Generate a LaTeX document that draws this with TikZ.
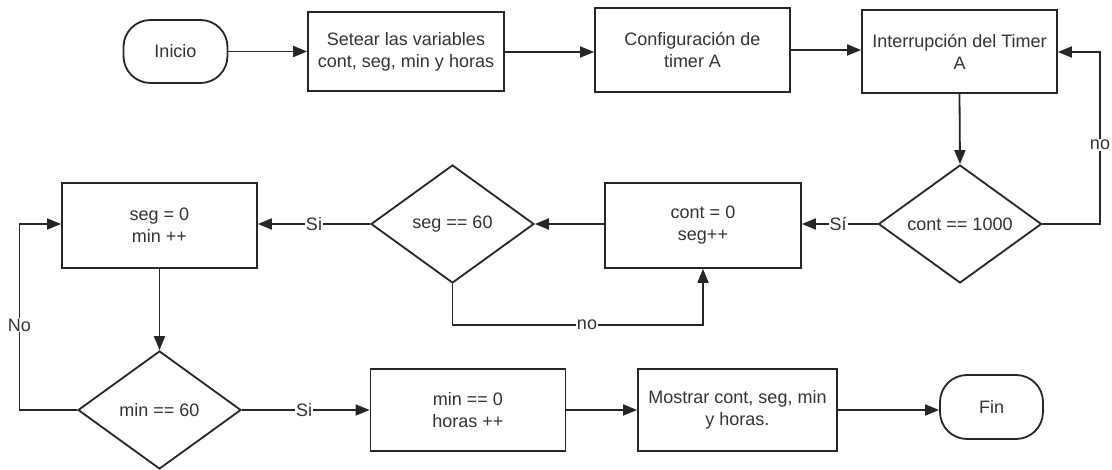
\documentclass[tikz,border=0pt]{standalone}
\usepackage{fontspec}
\setmainfont{Liberation Sans}
\usetikzlibrary{arrows.meta,shapes.geometric}
\definecolor{ln}{HTML}{262626}
\definecolor{tx}{HTML}{333333}
\begin{document}
\begin{tikzpicture}[x=1pt,y=-1pt,
  every node/.style={font=\fontsize{18}{22}\selectfont, text=tx},
  box/.style={draw=ln, line width=1.8pt, rectangle, align=center, inner sep=2pt},
  term/.style={draw=ln, line width=1.8pt, rectangle, rounded corners=27pt, align=center},
  dec/.style={draw=ln, line width=1.8pt, diamond, aspect=1.38, inner sep=0pt, minimum width=163pt, minimum height=118pt, align=center},
  lbl/.style={fill=white, inner sep=1pt},
  conn/.style={draw=ln, line width=1.8pt, -{Triangle[length=14pt,width=11pt]}}
]
\useasboundingbox (0,0) rectangle (1112,470);
\fill[white] (0,0) rectangle (1112,470);

\node[term, minimum width=104pt, minimum height=63pt] (inicio) at (175.5,51.5) {Inicio};
\node[box, minimum width=196pt, minimum height=79pt] (setear) at (406,51.5) {Setear las variables\\cont, seg, min y horas};
\node[box, minimum width=195pt, minimum height=84pt] (config) at (692.5,50) {Configuración de\\timer A};
\node[box, minimum width=195pt, minimum height=83pt] (interr) at (959.5,51.5) {Interrupción del Timer\\A};

\node[dec] (c1000) at (960,224) {cont == 1000};
\node[box, minimum width=196pt, minimum height=85pt] (cont0) at (703,225.5) {cont = 0\\seg++};
\node[dec] (seg60) at (452.5,224) {seg == 60};
\node[box, minimum width=195pt, minimum height=85pt] (seg0) at (159.5,225.5) {seg = 0\\min ++};

\node[dec] (min60) at (159.5,410) {min == 60};
\node[box, minimum width=195pt, minimum height=82pt] (min0) at (468,410) {min == 0\\horas ++};
\node[box, minimum width=199pt, minimum height=82pt] (most) at (737.5,410) {Mostrar cont, seg, min\\y horas.};
\node[term, minimum width=103pt, minimum height=64pt] (fin) at (991.5,407) {Fin};

\coordinate (rr1) at (1100,224);
\coordinate (rr2) at (1100,52);
\coordinate (lp1) at (452.5,325);
\coordinate (lp2) at (703,325);
\coordinate (ll1) at (19.5,410);
\coordinate (ll2) at (19.5,224);

\draw[conn] (inicio.east) -- (inicio.east -| setear.west);
\draw[conn] (setear.east |- 0,52) -- (config.west |- 0,52);
\draw[conn] (config.east) -- (config.east -| interr.west);
\draw[conn] (interr.south) -- (c1000.north);
\draw[conn] (c1000.east) -- (rr1) -- (rr2) -- (interr.east |- rr2);
\node[lbl] at (1100,145) {no};
\draw[conn] (c1000.west) -- (cont0.east |- c1000.west);
\node[lbl] at (838,224) {Sí};
\draw[conn] (cont0.west |- seg60.east) -- (seg60.east);
\draw[conn] (seg60.west) -- (seg0.east |- seg60.west);
\node[lbl] at (314,224) {Si};
\draw[conn] (seg60.south) -- (lp1) -- (lp2) -- (cont0.south);
\node[lbl] at (587,325) {no};
\draw[conn] (seg0.south) -- (min60.north);
\draw[conn] (min60.west) -- (ll1) -- (ll2) -- (seg0.west |- ll2);
\node[lbl] at (19.5,325) {No};
\draw[conn] (min60.east) -- (min0.west);
\node[lbl] at (304,410) {Si};
\draw[conn] (min0.east) -- (most.west);
\draw[conn] (most.east) -- (most.east -| fin.west);
\end{tikzpicture}
\end{document}
